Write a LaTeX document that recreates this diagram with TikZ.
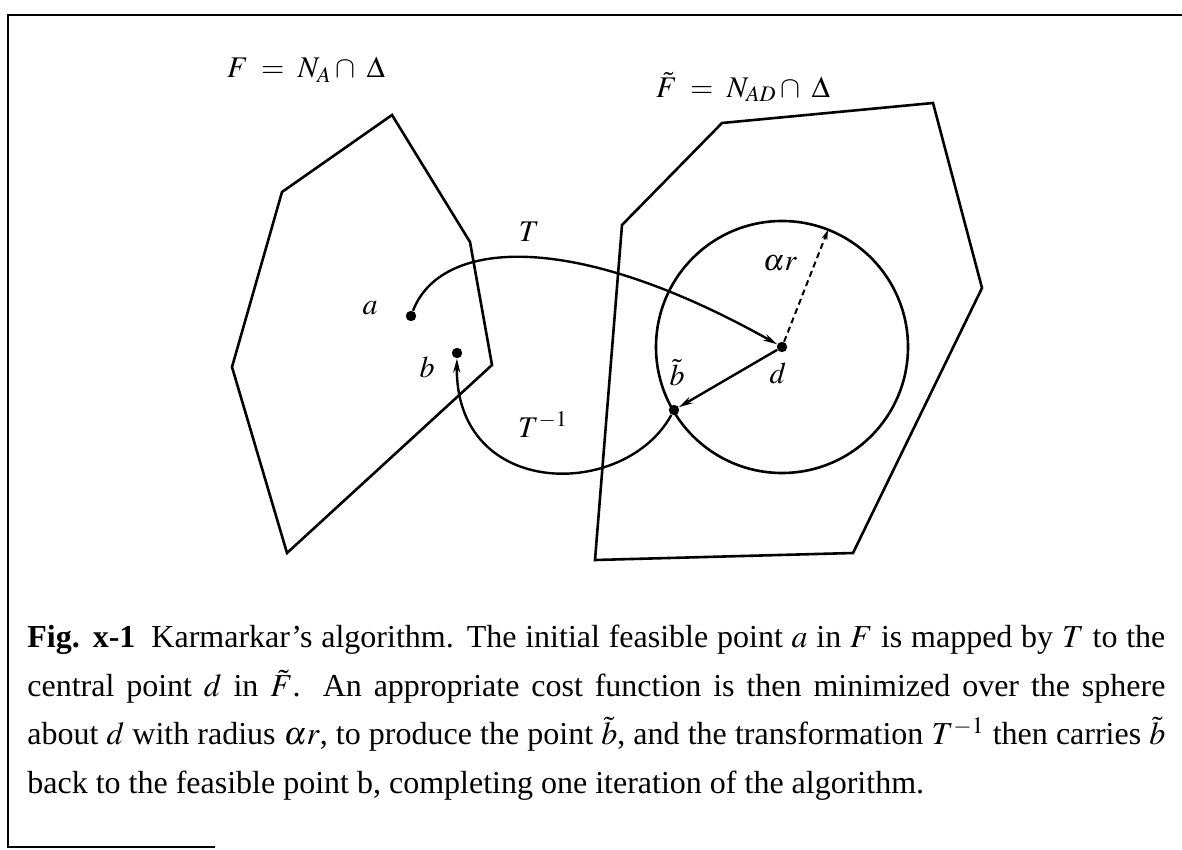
\documentclass[tikz,border=0pt]{standalone}
\usepackage{mathptmx}
\usepackage{fontspec}
\setmainfont{Liberation Serif}
\usetikzlibrary{arrows.meta}

\begin{document}
\begin{tikzpicture}[x=0.5pt,y=-0.5pt,
    edge/.style={line width=1.3pt,line join=miter},
    dot/.style={circle,fill,inner sep=0pt,minimum size=5.2pt},
    lbl/.style={inner sep=0pt,font=\fontsize{15}{17}\selectfont},
    arr/.style={line width=1.2pt,-{Stealth[length=7pt,width=3.5pt]}},
    dasharr/.style={line width=1pt,dash pattern=on 3pt off 2pt,-{Stealth[length=5pt,width=3pt]}},
    caption/.style={anchor=north west,inner sep=0pt,text width=569pt,align=justify,font=\fontsize{16}{24.25}\selectfont}
  ]
    \useasboundingbox (0,0) rectangle (1182,850);
    \draw[line width=1pt] (1182,15) -- (8,15) -- (8,847) -- (215,847);

    \node[lbl] (tf) at (306,70) {$F \;=\; N_A \cap\; \Delta$};
    \node[lbl] (tft) at (743,87) {$\tilde{F} \;=\; N_{AD} \cap\; \Delta$};

    \draw[edge] (392,115) -- (470,242) -- (492,365) -- (287,553) -- (232,367) -- (282,192) -- cycle;
    \draw[edge] (722,123) -- (933,103) -- (982,288) -- (853,553) -- (595,560) -- (622,225) -- cycle;

    \node[dot] (a) at (411,316) {};
    \node[dot] (b) at (457,353) {};
    \node[dot] (d) at (782,347) {};
    \node[dot] (bt) at (674,410) {};
    \coordinate (rim) at (828,230);
    \draw[edge] (d.center) circle[radius=126];

    \node[lbl] (la) at (370,308) {$a$};
    \node[lbl] (lb) at (427,367) {$b$};
    \node[lbl] (lbt) at (677,373) {$\tilde{b}$};
    \node[lbl] (ld) at (778,373) {$d$};
    \node[lbl] (lr) at (780,263) {$\alpha r$};
    \node[lbl] (lt) at (529,232) {$T$};
    \node[lbl,anchor=base] (lti) at (543,437) {$T^{-1}$};

    \draw[arr] (a) .. controls (440,240) and (570,228) .. (d);
    \draw[arr] (bt) .. controls (625,500) and (455,500) .. (b);
    \draw[arr] (d) -- (bt);
    \draw[dasharr] (d) -- (rim);

    \node[caption] (cap) at (27,625) {\textbf{Fig. x-1}\enspace Karmarkar's algorithm. The initial feasible point $a$ in $F$ is mapped by $T$ to the\linebreak
      central point $d$ in $\tilde{F}$. An appropriate cost function is then minimized over the sphere\linebreak
      about $d$ with radius $\alpha r$, to produce the point $\tilde{b}$, and the transformation $T^{-1}$ then carries $\tilde{b}$\linebreak
      back to the feasible point b, completing one iteration of the algorithm.};
\end{tikzpicture}
\end{document}
